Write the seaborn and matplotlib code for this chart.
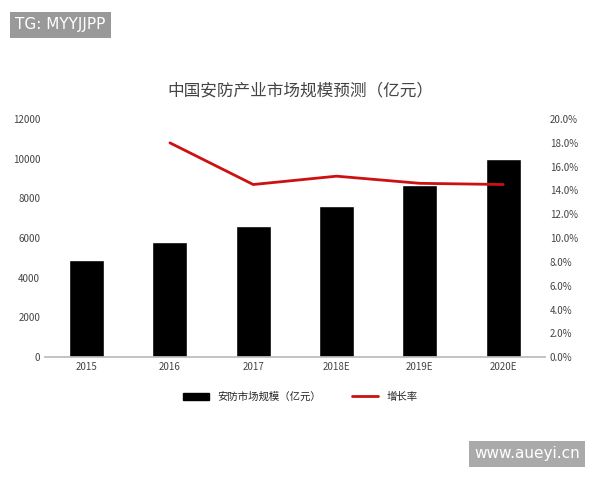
import matplotlib
matplotlib.use("Agg")
import matplotlib.pyplot as plt
import seaborn as sns
import pandas as pd
from matplotlib.patches import Patch
from matplotlib.lines import Line2D

years = ["2015", "2016", "2017", "2018E", "2019E", "2020E"]
market = [4900, 5800, 6600, 7600, 8700, 10000]
growth_years = ["2016", "2017", "2018E", "2019E", "2020E"]
growth = [18.0, 14.5, 15.2, 14.6, 14.5]

sns.set_theme(style="white")
plt.rcParams['font.family'] = ['Noto Sans CJK SC', 'DejaVu Sans']

fig = plt.figure(figsize=(6, 4.8), dpi=100)
ax = fig.add_axes([0.075, 0.256, 0.833, 0.496])
df = pd.DataFrame({"year": years, "market": market})
sns.barplot(data=df, x="year", y="market", color="black", width=0.42, ax=ax, saturation=1)
ax.set_ylim(0, 12000)
ax.set_yticks(range(0, 12001, 2000))
ax.set_xlabel(""); ax.set_ylabel("")
ax.tick_params(labelsize=7, colors="#444444", length=0)
for s in ["top", "right", "left"]:
    ax.spines[s].set_visible(False)
ax.spines["bottom"].set_color("#bbbbbb")

ax2 = ax.twinx()
pos = [years.index(y) for y in growth_years]
sns.lineplot(x=pos, y=growth, color="#cc1111", linewidth=2, ax=ax2)
ax2.set_ylim(0, 20)
ax2.set_yticks(range(0, 21, 2))
ax2.set_yticklabels([f"{v:.1f}%" for v in range(0, 21, 2)])
ax2.tick_params(labelsize=7, colors="#444444", length=0)
for s in ["top", "right", "left", "bottom"]:
    ax2.spines[s].set_visible(False)
ax.set_xlim(-0.5, 5.5)

fig.text(0.5, 0.81, "中国安防产业市场规模预测（亿元）", ha="center", va="center", fontsize=12, color="#444444")
handles = [Patch(color="black", label="安防市场规模（亿元）"),
           Line2D([0], [0], color="#cc1111", lw=2, label="增长率")]
fig.legend(handles=handles, loc="center", bbox_to_anchor=(0.5, 0.173), ncol=2, frameon=False, fontsize=7.5,
           handlelength=2.5, columnspacing=3)

fig.text(0.025, 0.948, "TG: MYYJJPP", fontsize=11, color="white", va="center", ha="left",
         family="DejaVu Sans", bbox=dict(facecolor="#999999", edgecolor="none", pad=4))
fig.text(0.79, 0.055, "www.aueyi.cn", fontsize=11, color="white", va="center", ha="left",
         family="DejaVu Sans", bbox=dict(facecolor="#aaaaaa", edgecolor="none", pad=4))
fig.savefig("out.png", dpi=100)
